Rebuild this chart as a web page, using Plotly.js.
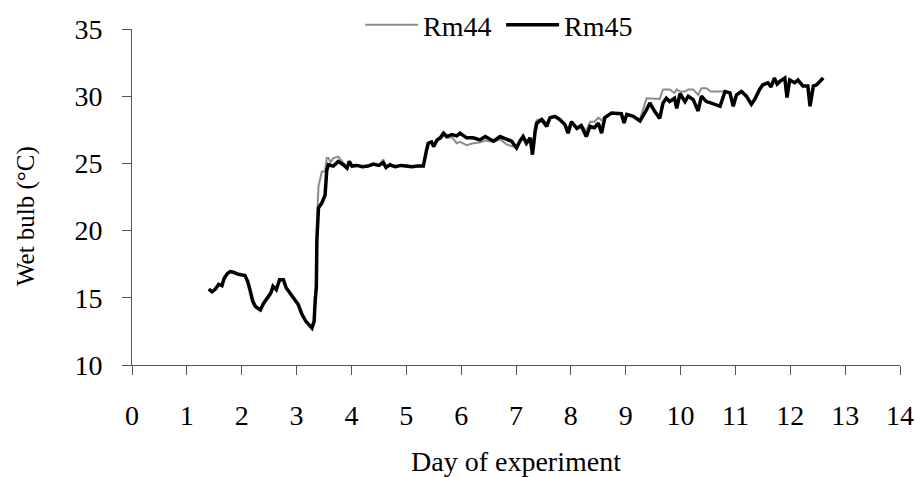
<!DOCTYPE html>
<html>
<head>
<meta charset="utf-8">
<script src="https://cdn.plot.ly/plotly-3.0.1.min.js"></script>
<style>html,body{margin:0;padding:0;background:#fff;}#chart{width:916px;height:477px;}</style>
</head>
<body>
<div id="chart"></div>
<script>
// Day of experiment (x) and wet bulb temperature (°C)
const rm45Days = [1.40,1.46,1.52,1.58,1.64,1.68,1.74,1.79,1.85,1.94,2.06,2.11,2.15,2.20,2.25,2.34,2.40,2.46,2.53,2.57,2.63,2.69,2.76,2.81,2.88,2.97,3.03,3.10,3.17,3.28,3.32,3.34,3.36,3.37,3.40,3.46,3.52,3.55,3.58,3.67,3.76,3.85,3.92,3.96,4.01,4.10,4.20,4.30,4.40,4.50,4.58,4.63,4.70,4.80,4.90,5.00,5.10,5.20,5.31,5.37,5.40,5.46,5.50,5.56,5.62,5.68,5.74,5.83,5.92,5.98,6.10,6.22,6.34,6.44,6.59,6.71,6.83,6.92,7.01,7.07,7.13,7.19,7.26,7.30,7.35,7.38,7.47,7.56,7.62,7.71,7.80,7.89,7.95,8.01,8.11,8.19,8.28,8.35,8.43,8.50,8.56,8.62,8.74,8.83,8.92,8.97,9.02,9.14,9.26,9.38,9.44,9.53,9.62,9.68,9.74,9.80,9.89,9.93,9.99,10.08,10.14,10.23,10.32,10.38,10.47,10.55,10.62,10.72,10.81,10.90,10.96,11.02,11.11,11.20,11.29,11.35,11.44,11.50,11.59,11.65,11.71,11.76,11.81,11.90,11.94,11.99,12.08,12.14,12.23,12.32,12.36,12.42,12.48,12.54,12.60];
const rm45Vals = [15.65,15.45,15.65,16.0,15.9,16.45,16.8,16.95,16.9,16.75,16.65,16.2,15.6,14.75,14.35,14.1,14.6,15.0,15.35,15.85,15.6,16.35,16.35,15.75,15.35,14.85,14.5,13.75,13.25,12.75,13.25,14.85,15.75,19.3,21.7,22.05,22.65,24.5,24.9,24.8,25.15,24.9,24.65,25.15,24.8,24.85,24.75,24.8,24.95,24.85,25.05,24.7,24.9,24.75,24.85,24.8,24.75,24.8,24.8,26.0,26.5,26.6,26.25,26.75,26.9,27.25,27.0,27.15,27.05,27.25,26.9,26.9,26.75,27.0,26.65,27.0,26.8,26.65,26.15,26.65,27.0,26.5,26.9,25.65,27.4,28.0,28.25,27.75,28.4,28.5,28.25,27.9,27.25,28.1,27.6,27.8,27.0,27.75,27.65,28.0,27.25,28.4,28.75,28.75,28.7,28.0,28.65,28.5,28.15,29.0,29.5,28.85,28.35,29.5,29.85,29.6,29.85,29.1,30.2,29.6,30.0,29.75,28.9,30.0,29.6,29.5,29.4,29.25,30.35,30.25,29.25,30.1,30.35,30.0,29.4,29.75,30.5,30.85,31.0,30.7,31.35,30.9,31.1,31.35,29.9,31.2,31.0,31.2,30.75,30.75,29.25,30.75,30.85,31.1,31.35];

const rm44Days = [1.40,1.46,1.52,1.58,1.64,1.68,1.74,1.79,1.85,1.94,2.06,2.11,2.15,2.20,2.25,2.34,2.40,2.46,2.53,2.57,2.63,2.69,2.76,2.81,2.88,2.97,3.03,3.10,3.17,3.28,3.32,3.34,3.36,3.37,3.40,3.46,3.52,3.55,3.58,3.62,3.67,3.76,3.85,3.92,3.96,4.01,4.10,4.20,4.30,4.40,4.50,4.58,4.63,4.70,4.80,4.90,5.00,5.10,5.20,5.31,5.37,5.40,5.46,5.50,5.56,5.62,5.68,5.74,5.83,5.92,5.98,6.10,6.22,6.34,6.44,6.59,6.71,6.83,6.92,7.01,7.07,7.13,7.19,7.26,7.30,7.35,7.38,7.47,7.56,7.62,7.71,7.80,7.89,7.95,8.01,8.11,8.19,8.28,8.35,8.43,8.50,8.56,8.62,8.74,8.83,8.92,8.97,9.02,9.14,9.26,9.38,9.44,9.53,9.62,9.68,9.74,9.80,9.89,9.93,9.99,10.08,10.14,10.23,10.32,10.38,10.47,10.55,10.62,10.72,10.81,10.90,10.96,11.02,11.11,11.20,11.29,11.35,11.44,11.50,11.59,11.65,11.71,11.76,11.81,11.90,11.94,11.99,12.08,12.14,12.23,12.32,12.36,12.42,12.48,12.54,12.60];
const rm44Vals = [15.65,15.45,15.65,16.0,15.9,16.45,16.8,16.95,16.9,16.75,16.65,16.2,15.6,14.75,14.35,14.1,14.6,15.0,15.35,15.85,15.6,16.35,16.35,15.75,15.35,14.85,14.5,13.75,13.25,12.75,13.25,14.85,16.5,20.5,23.3,24.4,24.4,25.4,25.4,25.1,25.4,25.5,25.0,24.7,25.1,24.8,24.85,24.7,24.8,24.9,24.85,25.3,24.75,24.85,24.7,24.85,24.75,24.75,24.8,24.8,25.9,26.4,26.6,26.3,26.7,26.8,27.1,26.9,26.95,26.5,26.6,26.35,26.5,26.55,26.7,26.6,26.8,26.4,26.3,26.2,26.6,26.9,26.5,26.85,26.0,27.9,28.2,28.35,28.0,28.4,28.5,28.3,27.9,27.6,28.1,27.7,27.9,27.4,28.1,28.1,28.4,28.2,28.5,28.75,28.75,28.7,28.3,28.65,28.5,28.3,29.85,29.85,29.85,29.8,30.5,30.5,30.5,30.25,30.5,30.35,30.35,30.5,30.5,30.1,30.6,30.6,30.35,30.35,30.35,30.35,30.25,29.3,30.1,30.35,30.0,29.4,29.75,30.5,30.85,31.0,30.7,31.35,30.9,31.1,31.35,29.9,31.2,31.0,31.2,30.75,30.75,29.3,30.75,30.85,31.1,31.35];

const seriesNames = ['Rm44', 'Rm45'];
const xTitle = 'Day of experiment';
const yTitle = 'Wet bulb (°C)';

const serif = '"Liberation Serif", "DejaVu Serif", serif';

const traces = [
  {x: rm44Days, y: rm44Vals, name: seriesNames[0], type: 'scatter', mode: 'lines',
   line: {color: '#8c8c8c', width: 2}},
  {x: rm45Days, y: rm45Vals, name: seriesNames[1], type: 'scatter', mode: 'lines',
   line: {color: '#000000', width: 3.5}}
];

const layout = {
  width: 916, height: 477,
  margin: {l: 132, r: 16, t: 29, b: 112, autoexpand: false},
  paper_bgcolor: '#ffffff', plot_bgcolor: '#ffffff',
  font: {family: serif, size: 28, color: '#000'},
  showlegend: true,
  legend: {orientation: 'h', x: 0.297, xanchor: 'left', y: 1.012, yanchor: 'middle',
           font: {family: serif, size: 28, color: '#000'}, itemwidth: 53,
           entrywidth: 73, entrywidthmode: 'pixels',
           bgcolor: 'rgba(0,0,0,0)', borderwidth: 0},
  xaxis: {range: [0, 14], tick0: 0, dtick: 1, ticks: 'outside', ticklen: 9, tickwidth: 1,
          tickcolor: '#555', showline: true, linecolor: '#555', linewidth: 1,
          showgrid: false, zeroline: false, ticklabelstandoff: 16, automargin: false,
          tickfont: {family: serif, size: 28, color: '#000'},
          title: {text: xTitle, font: {family: serif, size: 28, color: '#000'}, standoff: 30}},
  yaxis: {range: [10, 35], tick0: 10, dtick: 5, ticks: 'outside', ticklen: 9, tickwidth: 1,
          tickcolor: '#555', showline: true, linecolor: '#555', linewidth: 1,
          showgrid: false, zeroline: false, ticklabelstandoff: 14, automargin: false,
          tickfont: {family: serif, size: 28, color: '#000'}},
  annotations: [{text: yTitle, xref: 'paper', yref: 'paper', x: -0.1389, y: 0.4443,
                 xanchor: 'center', yanchor: 'middle', textangle: -90, showarrow: false,
                 font: {family: serif, size: 25, color: '#000'}}]
};

Plotly.newPlot('chart', traces, layout, {staticPlot: true, displayModeBar: false});
</script>
</body>
</html>
